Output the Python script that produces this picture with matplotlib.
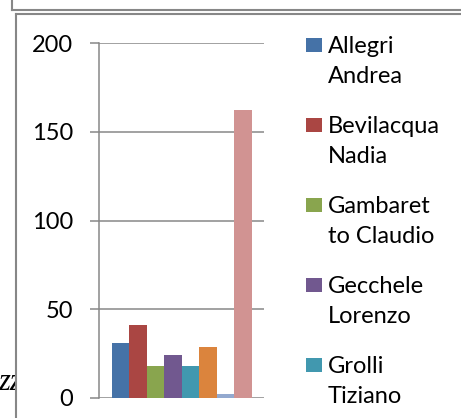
import matplotlib
matplotlib.use('Agg')
import matplotlib.pyplot as plt
import matplotlib.patches as patches
from matplotlib.lines import Line2D

W, H = 461, 418

# chart data (one category, one bar per person)
names = ['Allegri\nAndrea', 'Bevilacqua\nNadia', 'Gambaret\nto Claudio',
         'Gecchele\nLorenzo', 'Grolli\nTiziano']
values = [31, 41, 18, 24, 18, 29, 2, 162]
colors = ['#4572A7', '#AA4643', '#89A54E', '#71588F',
          '#4198AF', '#DB843D', '#93A9CF', '#D19392']
y_ticks = [0, 50, 100, 150, 200]

plt.rcParams['font.family'] = ['Lato', 'DejaVu Sans']
grey = '#878787'


def fx(px):
    return px / W


def fy(py):
    return 1 - py / H


fig = plt.figure(figsize=(W / 100, H / 100), dpi=100)

# sheet text behind the chart, partly covered by the chart area
fig.text(fx(-2), fy(390), 'zz', family='Liberation Serif', style='italic',
         fontsize=22, zorder=-3)
fig.patches.append(patches.Rectangle((fx(15.5), 0), 1, fy(13.5),
                                     transform=fig.transFigure, facecolor='white',
                                     edgecolor='none', zorder=-2))

# frames of the spreadsheet objects
for xs, ys in [([12, 12], [0, 9.5]), ([12, W], [9.5, 9.5]),
               ([15.5, W], [13.5, 13.5]), ([15.5, 15.5], [13.5, H])]:
    fig.lines.append(Line2D([fx(x) for x in xs], [fy(y) for y in ys],
                            transform=fig.transFigure, color=grey, lw=1.5))

ax = fig.add_axes([fx(99), fy(398), fx(264) - fx(99), fy(43) - fy(398)])
width = 17.5 / 165
for i, (v, c) in enumerate(zip(values, colors)):
    ax.bar(0.5 + (i - (len(values) - 1) / 2) * width, v, width=width, color=c,
           linewidth=0)

ax.set_xlim(0, 1)
ax.set_ylim(0, 200)
ax.set_yticks(y_ticks)
ax.set_xticks([])
ax.yaxis.grid(True, color=grey, lw=1.1)
ax.set_axisbelow(True)
for s in ['top', 'right', 'bottom']:
    ax.spines[s].set_visible(False)
ax.spines['left'].set_color(grey)
ax.spines['left'].set_linewidth(1.1)
ax.tick_params(axis='y', direction='out', length=6.5, width=1.1, color=grey,
               pad=12, labelsize=17)

# legend (Excel style: box next to the first line of a wrapped label)
for i, name in enumerate(names):
    base = 53 + 80 * i
    fig.patches.append(patches.Rectangle((fx(306), fy(base - 1)), 15.5 / W, 14 / H,
                                         transform=fig.transFigure,
                                         facecolor=colors[i], edgecolor='none'))
    for j, line in enumerate(name.split('\n')):
        fig.text(fx(328), fy(base + 30 * j), line, fontsize=17, va='baseline')

fig.savefig('out.png', dpi=100)
